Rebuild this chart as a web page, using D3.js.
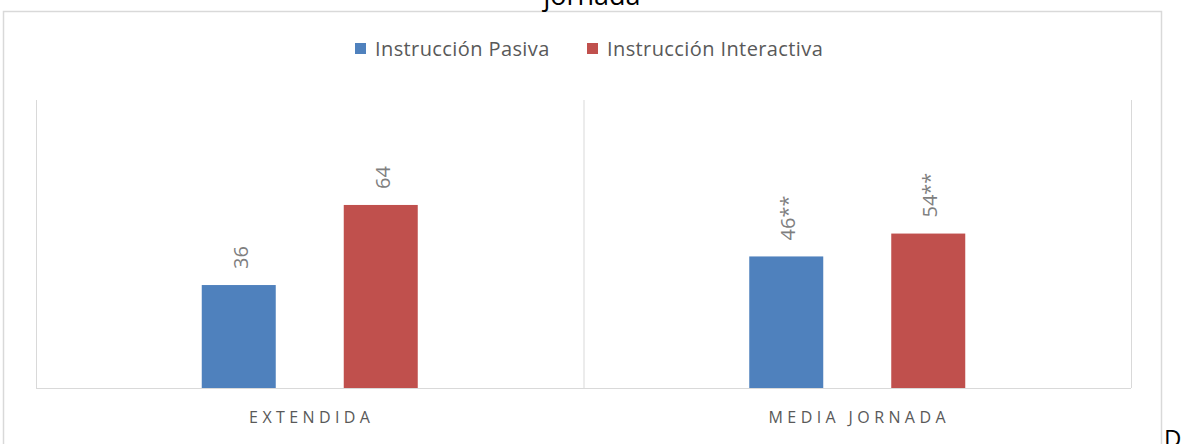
<!DOCTYPE html>
<html>
<head>
<meta charset="utf-8">
<script src="https://cdn.jsdelivr.net/npm/d3@7"></script>
<style>
  body { margin: 0; background: #fff; }
  svg { display: block; font-family: "Open Sans", "Noto Sans", sans-serif; }
</style>
</head>
<body>
<script>
const categories = ['EXTENDIDA', 'MEDIA JORNADA']
const seriesNames = ['Instrucción Pasiva', 'Instrucción Interactiva']
const pasiva = [36, 46]
const interactiva = [64, 54]
const pasivaLabels = ['36', '46**']
const interactivaLabels = ['64', '54**']
const colors = ['#4f81bd', '#c0504d']

const W = 1181, H = 444
const svg = d3.select('body').append('svg')
  .attr('width', W)
  .attr('height', H)

// chart frame
svg.append('rect')
  .attr('x', 3.5).attr('y', 11.5)
  .attr('width', 1158).attr('height', 450)
  .attr('fill', '#fff')
  .attr('stroke', '#d9d9d9')
  .attr('stroke-width', 1.5)

// cut-off title at the top
svg.append('text')
  .attr('x', 592).attr('y', 5)
  .attr('text-anchor', 'middle')
  .attr('font-size', 27)
  .attr('fill', '#000')
  .text('jornada')

// stray text at bottom right
svg.append('text')
  .attr('x', 1164).attr('y', 447)
  .attr('font-size', 24)
  .attr('fill', '#000')
  .text('D')

const plotL = 36, plotR = 1131, base = 388, plotT = 102

const x0 = d3.scaleBand().domain(categories).range([plotL, plotR]).padding(0)
// two bars 74 wide with a 68 gap, centred in each category
const x1 = d3.scaleBand().domain(seriesNames).range([-108, 108]).paddingInner(68 / 142)
const y = d3.scaleLinear().domain([0, 100]).range([base, plotT])

// vertical separators
const seps = [plotL, x0(categories[1]), plotR]
svg.selectAll('line.sep').data(seps).enter().append('line')
  .attr('class', 'sep')
  .attr('x1', d => d + 0.5).attr('x2', d => d + 0.5)
  .attr('y1', 100).attr('y2', base)
  .attr('stroke', '#d9d9d9')

const rows = categories.map((c, i) => [
  { cat: c, s: seriesNames[0], v: pasiva[i], lab: pasivaLabels[i], col: colors[0] },
  { cat: c, s: seriesNames[1], v: interactiva[i], lab: interactivaLabels[i], col: colors[1] }
]).flat()

const bx = d => x0(d.cat) + x0.bandwidth() / 2 + x1(d.s)

svg.selectAll('rect.bar').data(rows).enter().append('rect')
  .attr('class', 'bar')
  .attr('x', bx)
  .attr('y', d => y(d.v))
  .attr('width', x1.bandwidth())
  .attr('height', d => base - y(d.v))
  .attr('fill', d => d.col)

svg.selectAll('text.val').data(rows).enter().append('text')
  .attr('class', 'val')
  .attr('transform', d => `translate(${bx(d) + x1.bandwidth() / 2 + 2},${y(d.v) - 16}) rotate(-90)`)
  .attr('dy', '0.35em')
  .attr('font-size', 20)
  .attr('fill', '#7f7f7f')
  .text(d => d.lab)

// baseline
svg.append('line')
  .attr('x1', plotL).attr('x2', plotR)
  .attr('y1', base + 0.5).attr('y2', base + 0.5)
  .attr('stroke', '#d9d9d9')

// category labels
svg.selectAll('text.cat').data(categories).enter().append('text')
  .attr('class', 'cat')
  .attr('x', d => x0(d) + x0.bandwidth() / 2 + 2)
  .attr('y', 423)
  .attr('text-anchor', 'middle')
  .attr('font-size', 16)
  .attr('letter-spacing', 4.4)
  .attr('fill', '#595959')
  .text(d => d)

// legend
const legX = [355, 587]
const leg = svg.selectAll('g.leg').data(seriesNames).enter().append('g')
  .attr('class', 'leg')
  .attr('transform', (d, i) => `translate(${legX[i]},43)`)
leg.append('rect')
  .attr('width', 11).attr('height', 11)
  .attr('fill', (d, i) => colors[i])
leg.append('text')
  .attr('x', 20).attr('y', 13)
  .attr('font-size', 20)
  .attr('letter-spacing', 0.4)
  .attr('fill', '#595959')
  .text(d => d)
</script>
</body>
</html>
